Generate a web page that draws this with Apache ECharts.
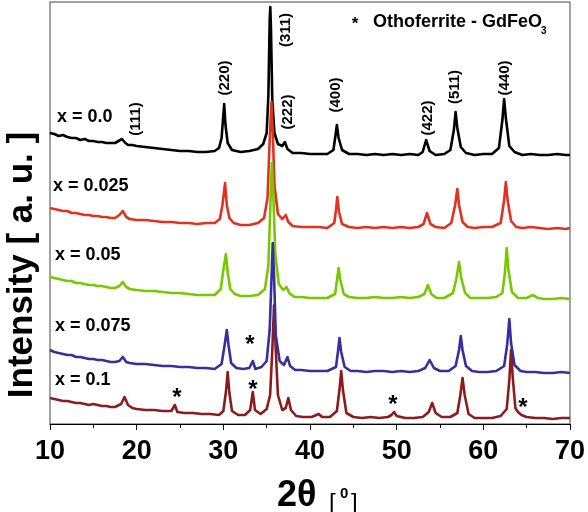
<!DOCTYPE html>
<html>
<head>
<meta charset="utf-8">
<script src="https://cdn.jsdelivr.net/npm/echarts@6/dist/echarts.min.js"></script>
<style>html,body{margin:0;padding:0;background:#fff}#c{width:588px;height:512px}</style>
</head>
<body>
<div id="c"></div>
<script>
// 2θ (degrees) and stacked intensity (a.u.)
const sampleNames = ['x = 0.0', 'x = 0.025', 'x = 0.05', 'x = 0.075', 'x = 0.1'];
const xTicks = [10, 20, 30, 40, 50, 60, 70];
const peakLabels = ['(111)', '(220)', '(311)', '(222)', '(400)', '(422)', '(511)', '(440)'];

const x000 = [[10,291],[10.5,290],[11,288],[11.5,289],[12,287],[12.5,286],[13,286],[13.5,284],[14,285],[14.5,283],[15,283],[15.5,282],[16,282],[16.5,281],[17,281],[17.5,281],[17.9,283],[18.3,285],[18.7,281],[19,279],[19.5,279],[20,278],[21,277],[22,276],[23,275],[24,274],[25,273],[26,273],[27,272],[28,272],[29,273],[29.5,276],[29.8,286],[30,309],[30.1,320],[30.25,299],[30.5,281],[31,274],[32,272],[33,273],[34,275],[34.6,280],[35,291],[35.2,329],[35.35,404],[35.42,417],[35.5,394],[35.65,324],[35.9,291],[36.3,280],[36.8,278],[37.1,282],[37.4,275],[38,271],[39,271],[40,270],[41,270],[42,270],[42.7,274],[42.95,289],[43.1,299],[43.3,286],[43.7,274],[44.5,270],[45.5,270],[46.5,269],[47.5,270],[48.5,269],[49.5,270],[50.5,269],[51.5,270],[52.5,269],[53,272],[53.4,284],[53.8,273],[54.5,269],[55.5,270],[56.2,274],[56.6,294],[56.8,312],[57,296],[57.4,277],[58,271],[59,269],[60,270],[61,270],[61.8,276],[62.2,304],[62.4,325],[62.6,306],[63,278],[63.6,272],[64.5,269],[65.5,270],[66.5,269],[67.5,269],[68.5,270],[69.5,269],[70,269]];

const x025 = [[10,216],[10.5,215],[11,214],[11.5,213],[12,213],[12.5,211],[13,211],[13.5,210],[14,209],[14.5,209],[15,208],[15.5,208],[16,207],[16.5,207],[17,206],[17.5,206],[18,209],[18.4,213],[18.8,207],[19.2,205],[20,204],[21,204],[22,203],[23,202],[24,202],[25,201],[26,201],[27,200],[28,201],[29,201],[29.6,205],[29.9,219],[30.2,241],[30.4,219],[30.7,206],[31.2,201],[32,199],[33,199],[34,201],[34.7,206],[35.1,226],[35.35,284],[35.55,322],[35.7,294],[35.9,239],[36.3,210],[36.8,205],[37.2,209],[37.5,202],[38,198],[39,197],[40,197],[41,197],[42,196],[42.8,201],[43,214],[43.15,227],[43.35,212],[43.7,200],[44.5,197],[45.5,196],[46.5,197],[47.5,196],[48.5,197],[49.5,196],[50.5,197],[51.5,196],[52.5,197],[53.1,200],[53.5,211],[53.9,200],[54.5,197],[55.5,196],[56.3,201],[56.75,219],[57,235],[57.2,219],[57.6,202],[58.2,197],[59,196],[60,197],[61,197],[62,201],[62.4,224],[62.6,242],[62.8,224],[63.2,203],[63.8,197],[64.5,196],[65.5,197],[66.5,196],[67.5,195],[68.5,196],[69.5,195],[70,196]];

const x050 = [[10,147],[10.5,146],[11,145],[11.5,144],[12,143],[12.5,143],[13,141],[13.5,141],[14,140],[14.5,139],[15,139],[15.5,138],[16,138],[16.5,137],[17,136],[17.5,136],[18,138],[18.4,142],[18.8,137],[19.2,135],[20,134],[21,133],[22,133],[23,132],[24,131],[25,131],[26,130],[27,129],[28,129],[29,129],[29.7,135],[30,154],[30.3,170],[30.5,152],[30.8,135],[31.3,130],[32,128],[33,128],[34,129],[34.8,135],[35.2,159],[35.45,224],[35.6,261],[35.75,234],[36,169],[36.4,140],[36.9,134],[37.3,137],[37.6,131],[38.2,127],[39,127],[40,126],[41,126],[42,126],[42.9,130],[43.15,146],[43.3,156],[43.5,144],[43.9,130],[44.5,127],[45.5,126],[46.5,126],[47.5,127],[48.5,126],[49.5,126],[50.5,127],[51.5,126],[52.5,127],[53.2,130],[53.6,139],[54,130],[54.6,126],[55.5,126],[56.5,131],[56.9,146],[57.2,162],[57.45,146],[57.9,131],[58.5,126],[59.5,126],[60.5,126],[61.5,127],[62.2,131],[62.5,152],[62.7,176],[62.9,154],[63.3,132],[64,126],[65,126],[65.7,129],[66.3,126],[67,125],[68,125],[69,126],[70,125]];

const x075 = [[10,74],[10.5,72],[11,71],[11.5,70],[12,69],[12.5,69],[13,67],[13.5,67],[14,66],[14.5,65],[15,65],[15.5,64],[16,64],[16.5,63],[17,62],[17.5,62],[18,63],[18.4,67],[18.8,62],[19.2,61],[20,60],[21,60],[22,59],[23,58],[24,58],[25,57],[26,57],[27,56],[28,56],[29,55],[29.8,60],[30.15,79],[30.4,94],[30.6,79],[30.9,61],[31.5,56],[32.3,55],[33,56],[33.4,63],[33.7,55],[34.4,57],[35,63],[35.35,94],[35.55,144],[35.7,181],[35.85,149],[36.05,89],[36.5,63],[37,59],[37.4,67],[37.7,58],[38.3,54],[39,54],[40,53],[41,53],[42,53],[43,57],[43.25,74],[43.4,86],[43.6,72],[44,57],[44.7,53],[45.5,53],[46.5,52],[47.5,53],[48.5,53],[49.5,52],[50.5,53],[51.5,52],[52.5,53],[53.3,56],[53.8,64],[54.3,56],[55,53],[56,53],[56.8,58],[57.2,74],[57.4,88],[57.6,74],[58,58],[58.7,53],[59.5,52],[60.5,52],[61.5,53],[62.4,58],[62.75,79],[63,105],[63.2,81],[63.6,59],[64.3,53],[65,52],[66,52],[67,51],[68,51],[69,52],[70,51]];

const x100 = [[10,26],[10.5,25],[11,24],[11.5,23],[12,23],[12.5,22],[13,21],[13.5,21],[14,20],[14.5,19],[15,20],[15.5,19],[16,18],[16.5,18],[17,17],[17.5,17],[18.2,20],[18.6,27],[19,19],[19.5,16],[20,15],[21,14],[22,14],[23,13],[24,13],[24.4,19],[24.7,12],[25.5,11],[26.5,11],[27.5,10],[28.5,10],[29.5,9],[30,13],[30.3,32],[30.5,52],[30.7,31],[31,13],[31.7,9],[32.5,9],[33.1,14],[33.4,32],[33.65,14],[34.3,10],[35,15],[35.4,29],[35.65,74],[35.85,119],[36.05,74],[36.3,29],[36.8,14],[37.2,16],[37.5,26],[37.8,14],[38.4,8],[39.2,7],[40.2,7],[41,10],[41.4,7],[42.3,7],[43.1,13],[43.4,34],[43.6,53],[43.8,34],[44.2,11],[45,7],[46,6],[47,7],[48,6],[49,7],[49.4,9],[49.7,12],[50,8],[51,6],[52,6],[53,7],[53.7,12],[54.1,21],[54.5,11],[55.2,7],[56.2,7],[57,11],[57.35,29],[57.6,46],[57.85,29],[58.3,10],[59,6],[60,6],[61,6],[62,8],[62.7,15],[63,44],[63.2,74],[63.4,46],[63.7,16],[64,12],[64.4,9],[65,7],[66,6],[67,6],[68,5],[69,6],[70,6]];

const seriesData = [x100, x000, x025, x050, x075];
const seriesNames = ['x = 0.1', 'x = 0.0', 'x = 0.025', 'x = 0.05', 'x = 0.075'];
const seriesColors = ['#8c1c1c', '#000000', '#e2311f', '#78c800', '#3a2e9c'];

const chart = echarts.init(document.getElementById('c'), null, {renderer: 'canvas'});
const FF = '"Liberation Sans", Arial, sans-serif';

const labelPos = [[57,119],[53,188],[55,257],[55,328],[55,382]];
const peakPos = [[136,119],[225,78],[286,30],[288,112],[336,95],[428,118],[455,87],[505,78]];
const starPos = [[250,340],[177,393],[253,385],[393,400],[523,403]];

const graphics = [];
sampleNames.forEach((t, i) => graphics.push({type:'text', left: labelPos[i][0], top: labelPos[i][1]-11, style:{text:t, font:'bold 18px ' + FF, fill:'#000'}}));
peakLabels.forEach((t, i) => graphics.push({type:'text', x: peakPos[i][0], y: peakPos[i][1], rotation: Math.PI/2, style:{text:t, font:'bold 15px ' + FF, fill:'#000', align:'center', verticalAlign:'middle'}}));
starPos.forEach(p => graphics.push({type:'text', x:p[0], y:p[1]+5, style:{text:'*', font:'bold 24px ' + FF, fill:'#000', align:'center', verticalAlign:'middle'}}));
graphics.push({type:'text', x:355, y:24, style:{text:'*', font:'bold 17px ' + FF, fill:'#000', align:'center', verticalAlign:'middle'}});
graphics.push({type:'text', x:373, y:22, style:{text:'Othoferrite - GdFeO', font:'bold 18px ' + FF, fill:'#000', align:'left', verticalAlign:'middle'}});
graphics.push({type:'text', x:541, y:31, style:{text:'3', font:'bold 10px ' + FF, fill:'#000', align:'left', verticalAlign:'middle'}});
graphics.push({type:'text', x:22, y:265, rotation: Math.PI/2, style:{text:'Intensity [ a. u. ]', font:'bold 35px ' + FF, fill:'#000', align:'center', verticalAlign:'middle'}});
graphics.push({type:'text', x:277, y:496, style:{text:'2θ', font:'bold 36px ' + FF, fill:'#000', align:'left', verticalAlign:'middle'}});
graphics.push({type:'text', x:329, y:503, style:{text:'[', font:'24px ' + FF, fill:'#000', align:'left', verticalAlign:'middle'}});
graphics.push({type:'text', x:340, y:494, style:{text:'0', font:'bold 15px ' + FF, fill:'#000', align:'left', verticalAlign:'middle'}});
graphics.push({type:'text', x:351, y:503, style:{text:']', font:'24px ' + FF, fill:'#000', align:'left', verticalAlign:'middle'}});

chart.setOption({
  animation: false,
  backgroundColor: '#fff',
  grid: {left: 50, right: 18, top: 2, bottom: 88, show: true, borderColor: '#444', borderWidth: 1, backgroundColor: 'transparent'},
  xAxis: {
    type: 'value', min: 10, max: 70, interval: 10,
    axisLine: {show: true, onZero: false, lineStyle: {color: '#000', width: 1}},
    axisTick: {show: true, length: 6, lineStyle: {color: '#000'}},
    minorTick: {show: true, splitNumber: 2, length: 4, lineStyle: {color: '#000'}},
    splitLine: {show: false},
    axisLabel: {fontSize: 27, fontWeight: 'bold', fontFamily: FF, color: '#000', margin: 14,
      formatter: v => xTicks.indexOf(v) >= 0 ? String(v) : ''}
  },
  yAxis: {type: 'value', min: 0, max: 422, show: false, splitLine: {show: false}},
  series: seriesData.map((d, i) => ({
    name: seriesNames[i], type: 'line', data: d, showSymbol: false, symbol: 'none',
    lineStyle: {color: seriesColors[i], width: 2.6, join: 'round'}, z: 2 + i
  })),
  graphic: graphics
});
</script>
</body>
</html>
